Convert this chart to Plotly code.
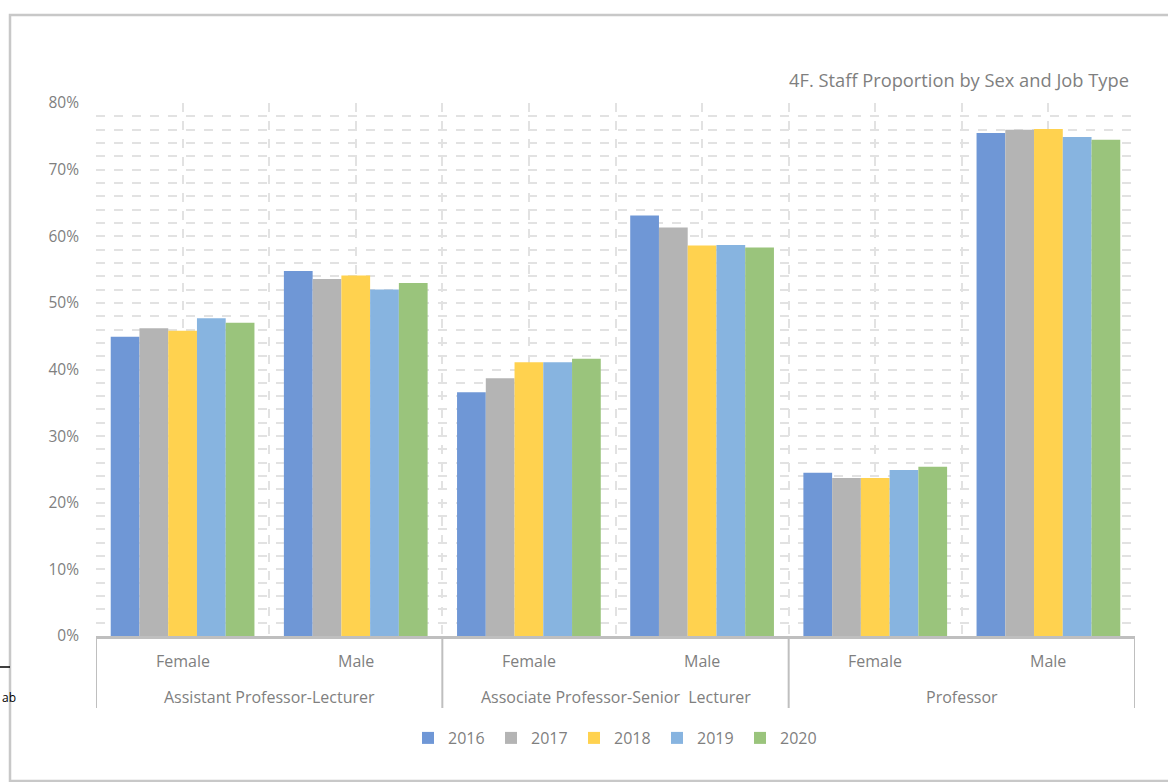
import plotly.graph_objects as go

job_types = ["Assistant Professor-Lecturer", "Associate Professor-Senior  Lecturer", "Professor"]
sexes = ["Female", "Male"]
years = ["2016", "2017", "2018", "2019", "2020"]

# proportions (fraction) per year, order: AP-F, AP-M, ASP-F, ASP-M, P-F, P-M
v2016 = [0.449, 0.548, 0.366, 0.631, 0.245, 0.755]
v2017 = [0.462, 0.536, 0.387, 0.613, 0.237, 0.760]
v2018 = [0.458, 0.541, 0.411, 0.586, 0.237, 0.761]
v2019 = [0.477, 0.520, 0.411, 0.587, 0.249, 0.749]
v2020 = [0.470, 0.530, 0.416, 0.583, 0.254, 0.745]
series = [v2016, v2017, v2018, v2019, v2020]
colors = ["#6F97D6", "#B4B4B4", "#FFD24F", "#87B4E0", "#9AC47C"]

y_ticks = [0, 0.1, 0.2, 0.3, 0.4, 0.5, 0.6, 0.7, 0.8]
y_tick_text = ["0%", "10%", "20%", "30%", "40%", "50%", "60%", "70%", "80%"]

title_text = "4F. Staff Proportion by Sex and Job Type"

W, H = 1168, 782
L, R, T, B = 96, 33, 103, 146
pw, ph = W - L - R, H - T - B


def px(x):
    return (x - L) / pw


def py(y):
    return (H - B - y) / ph


font_family = "Open Sans, Noto Sans, sans-serif"
grey = "#7F7F7F"
line_grey = "#BFBFBF"
grid_grey = "#E2E2E2"

ncat = len(job_types) * len(sexes)
xpos = list(range(ncat))

fig = go.Figure()
for yr, vals, c in zip(years, series, colors):
    fig.add_trace(go.Bar(x=xpos, y=vals, name=yr, marker=dict(color=c, line=dict(width=0))))

shapes = []
annotations = []
# group dividers below the axis
for gi in range(len(job_types) + 1):
    xb = gi * len(sexes) - 0.5
    shapes.append(dict(type="line", xref="x", yref="paper", x0=xb, x1=xb, y0=0, y1=py(708),
                       line=dict(color=line_grey, width=2)))
for gi, jt in enumerate(job_types):
    annotations.append(dict(text=jt, xref="x", yref="paper", x=gi * len(sexes) + (len(sexes) - 1) / 2,
                            y=py(697), xanchor="center", yanchor="middle", showarrow=False,
                            font=dict(size=16, color=grey, family=font_family)))
    for si, s in enumerate(sexes):
        annotations.append(dict(text=s, xref="x", yref="paper", x=gi * len(sexes) + si,
                                y=py(661), xanchor="center", yanchor="middle", showarrow=False,
                                font=dict(size=16, color=grey, family=font_family)))

# outer chart frame
shapes.append(dict(type="rect", xref="paper", yref="paper", x0=px(10), x1=px(1180), y0=py(15), y1=py(781),
                   line=dict(color="#C8C8C8", width=2.5), fillcolor="rgba(0,0,0,0)", layer="below"))
# stray document line at bottom-left
shapes.append(dict(type="line", xref="paper", yref="paper", x0=px(0), x1=px(10), y0=py(667), y1=py(667),
                   line=dict(color="black", width=1.5)))

annotations += [
    dict(text=title_text, xref="paper", yref="paper", x=px(1131), y=py(80), xanchor="right", yanchor="middle",
         showarrow=False, font=dict(size=18.3, color=grey, family=font_family)),
    dict(text="ab", xref="paper", yref="paper", x=px(0), y=py(697), xanchor="left", yanchor="middle",
         showarrow=False, font=dict(size=12, color="black", family=font_family)),
]

fig.update_layout(
    width=W, height=H,
    margin=dict(l=L, r=R, t=T, b=B, autoexpand=False),
    paper_bgcolor="white", plot_bgcolor="white",
    barmode="group", bargap=0.17, bargroupgap=0,
    font=dict(family=font_family, color=grey, size=14),
    showlegend=True,
    legend=dict(orientation="h", x=0.5, xanchor="center", y=py(738), yanchor="middle",
                font=dict(size=16, color=grey, family=font_family), itemwidth=30,
                entrywidth=38, entrywidthmode="pixels", traceorder="normal"),
    shapes=shapes,
    annotations=annotations,
)
fig.update_xaxes(
    range=[-0.5, ncat - 0.5], showticklabels=False, ticks="", zeroline=False,
    showgrid=True, tick0=-0.5, dtick=0.5, gridcolor=grid_grey, griddash="dash", gridwidth=1.5,
    showline=True, linecolor=line_grey, linewidth=2.5,
)
fig.update_yaxes(
    range=[0, 0.8], tickvals=y_ticks, ticktext=y_tick_text, showgrid=True, gridcolor=grid_grey,
    griddash="dash", gridwidth=1.5, zeroline=False, showline=False, ticks="",
    ticklabelstandoff=16, tickfont=dict(size=15.5, color=grey, family=font_family),
    minor=dict(dtick=0.02, tick0=0, showgrid=True, gridcolor=grid_grey, griddash="dash", gridwidth=1.5),
)

fig.write_html("out.html")
